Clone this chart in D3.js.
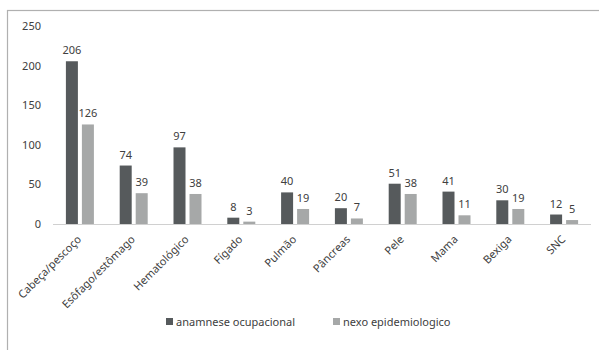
<!DOCTYPE html>
<html>
<head>
<meta charset="utf-8">
<script src="https://cdn.jsdelivr.net/npm/d3@7"></script>
<style>
  body { margin: 0; background: #fff; }
  text { font-family: "Noto Sans", sans-serif; fill: #404040; }
</style>
</head>
<body>
<svg width="599" height="350"></svg>
<script>
// Data
let categories = ["Cabeça/pescoço", "Esôfago/estômago", "Hematológico", "Fígado", "Pulmão",
  "Pâncreas", "Pele", "Mama", "Bexiga", "SNC"];
let seriesNames = ["anamnese ocupacional", "nexo epidemiologico"];
let anamnese = [206, 74, 97, 8, 40, 20, 51, 41, 30, 12];
let nexo = [126, 39, 38, 3, 19, 7, 38, 11, 19, 5];
let yTicks = [0, 50, 100, 150, 200, 250];
let colors = ["#565a5c", "#a6a8a8"];

let svg = d3.select("svg");

// outer frame (cut off at the right and bottom)
svg.append("rect")
  .attr("x", 7.5).attr("y", 10.5)
  .attr("width", 620).attr("height", 360)
  .attr("fill", "none")
  .attr("stroke", "#b0b0b0")
  .attr("stroke-width", 1.2);

// scales
let x0 = d3.scaleBand().domain(categories).range([53, 591]).padding(0);
let x1 = d3.scaleBand().domain([0, 1]).range([-14, 14]).paddingInner(0.25);
let y = d3.scaleLinear().domain([0, 250]).range([224, 26.5]);

// y axis labels
svg.append("g")
  .selectAll("text")
  .data(yTicks)
  .enter()
  .append("text")
  .attr("x", 41)
  .attr("y", d => y(d))
  .attr("dy", "0.35em")
  .attr("text-anchor", "end")
  .attr("font-size", 11)
  .text(d => d);

// bars
let rows = categories.map((c, i) => ({ cat: c, vals: [anamnese[i], nexo[i]] }));
let groups = svg.append("g")
  .selectAll("g")
  .data(rows)
  .enter()
  .append("g")
  .attr("transform", d => "translate(" + (x0(d.cat) + x0.bandwidth() / 2) + ",0)");

groups.selectAll("rect")
  .data(d => d.vals.map((v, k) => ({ v: v, k: k })))
  .enter()
  .append("rect")
  .attr("x", d => x1(d.k))
  .attr("width", x1.bandwidth())
  .attr("y", d => y(d.v))
  .attr("height", d => y(0) - y(d.v))
  .attr("fill", d => colors[d.k]);

groups.selectAll("text")
  .data(d => d.vals.map((v, k) => ({ v: v, k: k })))
  .enter()
  .append("text")
  .attr("x", d => x1(d.k) + x1.bandwidth() / 2)
  .attr("y", d => y(d.v) - 7)
  .attr("text-anchor", "middle")
  .attr("font-size", 11)
  .text(d => d.v);

// baseline
svg.append("line")
  .attr("x1", 53).attr("x2", 591)
  .attr("y1", y(0) + 0.5).attr("y2", y(0) + 0.5)
  .attr("stroke", "#d0d0d0")
  .attr("stroke-width", 1);

// category labels
svg.append("g")
  .selectAll("text")
  .data(categories)
  .enter()
  .append("text")
  .attr("transform", d => "translate(" + (x0(d) + x0.bandwidth() / 2 + 2) + ",240) rotate(-45)")
  .attr("text-anchor", "end")
  .attr("font-size", 11)
  .text(d => d);

// legend
let legendX = [166, 333];
let legend = svg.append("g")
  .selectAll("g")
  .data(seriesNames)
  .enter()
  .append("g")
  .attr("transform", (d, i) => "translate(" + legendX[i] + ",322)");

legend.append("rect")
  .attr("x", 0).attr("y", -4)
  .attr("width", 7).attr("height", 7)
  .attr("fill", (d, i) => colors[i]);

legend.append("text")
  .attr("x", 10)
  .attr("dy", "0.35em")
  .attr("font-size", 11)
  .text(d => d);
</script>
</body>
</html>
